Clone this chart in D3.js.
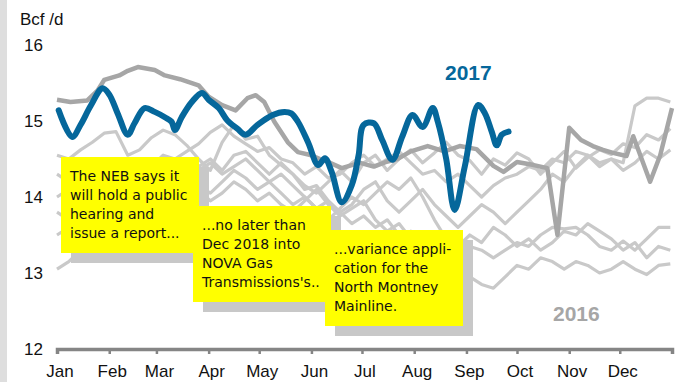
<!DOCTYPE html>
<html>
<head>
<meta charset="utf-8">
<script src="https://cdn.jsdelivr.net/npm/d3@7/dist/d3.min.js"></script>
<style>
  html, body { margin: 0; padding: 0; background: #fff; }
  svg { display: block; }
</style>
</head>
<body>
<svg id="chart" width="676" height="382"></svg>
<script>
// Month labels along the bottom axis
const months = ["Jan","Feb","Mar","Apr","May","Jun","Jul","Aug","Sep","Oct","Nov","Dec"];
const monthStartDays = [0,31,59,90,120,151,181,212,243,273,304,334,365];
const yTicks = [12, 13, 14, 15, 16];

// 2017 daily flow (Bcf/d), day of year and value
const days2017 = [1,9,14,20,27,31,36,42,46,52,58,64,68,70,74,80,86,90,96,101,107,112,119,128,135,139,143,149,155,159,163,169,175,179,182,188,193,199,205,211,217,223,226,231,236,242,250,254,258,261,264,268];
const values2017 = [15.14,14.79,14.95,15.2,15.43,15.35,15.1,14.82,14.97,15.17,15.12,15.05,14.99,14.88,15.05,15.25,15.37,15.28,15.17,15.01,14.9,14.82,14.95,15.08,15.12,15.1,14.99,14.72,14.42,14.51,14.33,13.93,14.16,14.55,14.95,14.97,14.75,14.49,14.8,15.08,14.92,15.17,14.99,14.5,13.83,14.4,15.21,15.1,14.86,14.68,14.82,14.86];

// 2016 flow
const days2016 = [0,8,18,24,28,37,42,48,58,64,73,84,90,98,106,113,118,123,129,137,143,151,156,161,169,175,180,188,195,202,210,220,230,239,249,259,265,273,283,291,297,304,311,318,324,330,338,342,352,358,365];
const values2016 = [15.28,15.25,15.27,15.4,15.54,15.6,15.66,15.71,15.67,15.6,15.55,15.47,15.32,15.21,15.14,15.3,15.34,15.25,14.99,14.72,14.59,14.55,14.5,14.46,14.38,14.42,14.45,14.4,14.46,14.5,14.6,14.67,14.6,14.67,14.63,14.41,14.33,14.46,14.42,14.38,13.5,14.91,14.75,14.67,14.62,14.58,14.54,14.8,14.2,14.55,15.17];

// Earlier years, weekly flow
const weekly2010 = [14.55,14.5,14.62,14.72,14.84,14.86,14.55,14.62,14.78,14.88,14.82,14.68,14.5,14.35,14.72,14.95,14.76,14.8,14.55,14.42,14.3,14.15,14.05,14.2,14.35,14.2,14.45,14.55,14.35,14.5,14.62,14.45,14.58,14.72,14.55,14.48,14.3,14.5,14.42,14.58,14.5,14.3,14.45,14.6,14.38,14.52,14.62,14.56,14.7,14.65,14.82,14.75,14.9];
const weekly2011 = [14.0,14.1,13.95,14.05,14.2,14.1,14.0,14.15,14.3,14.2,14.1,14.25,14.4,14.5,14.35,14.55,14.6,14.45,14.3,14.45,14.3,14.1,14.15,13.95,13.8,13.9,14.1,14.2,13.95,13.8,13.95,14.1,13.9,13.75,13.6,13.75,13.9,13.8,13.65,13.8,13.95,14.1,14.3,14.2,14.4,14.55,14.45,14.5,14.35,14.45,14.6,14.5,14.62];
const weekly2012 = [13.05,13.15,13.3,13.45,13.5,13.65,13.8,13.75,13.9,14.0,13.85,13.95,14.1,13.95,14.05,14.2,14.1,13.95,14.05,13.9,13.8,13.95,14.1,13.9,13.75,13.85,13.95,13.7,13.55,13.65,13.45,13.35,13.4,13.2,13.05,12.95,12.85,12.8,12.95,13.1,13.05,13.2,13.15,13.05,13.15,13.1,13.0,13.05,13.15,13.05,12.98,13.1,13.12];
const weekly2013 = [13.5,13.6,13.7,13.85,13.75,13.9,14.05,13.95,14.1,14.2,14.3,14.2,14.35,14.45,14.3,14.4,14.5,14.35,14.2,14.3,14.15,14.0,13.85,13.95,13.8,13.65,13.75,13.6,13.7,13.5,13.55,13.4,13.5,13.35,13.25,13.35,13.3,13.2,13.3,13.4,13.35,13.5,13.6,13.58,13.6,13.5,13.35,13.3,13.42,13.3,13.45,13.6,13.6];
const weekly2014 = [14.3,14.2,14.1,14.25,14.35,14.2,14.3,14.45,14.4,14.55,14.5,14.6,14.7,14.85,14.95,14.8,14.7,14.6,14.65,14.5,14.45,14.3,14.4,14.25,14.3,14.45,14.55,14.4,14.5,14.6,14.45,14.3,14.35,14.2,14.3,14.15,14.0,14.15,14.25,14.3,14.4,14.35,14.5,14.45,14.6,14.55,14.4,14.5,14.45,15.2,15.3,15.3,15.25];
const weekly2015 = [13.8,13.7,13.85,13.95,13.8,13.9,14.05,14.2,14.15,14.3,14.4,14.3,14.15,14.05,14.2,14.35,14.25,14.1,14.2,14.05,13.9,14.0,13.85,13.7,13.85,14.0,13.9,14.05,14.2,14.1,14.25,14.0,13.7,13.45,13.35,13.5,13.4,13.6,13.5,13.35,13.45,13.3,13.4,13.55,13.5,13.65,13.55,13.45,13.3,13.4,13.2,13.35,13.3];

// Call-out notes
const notes = [
  ["The NEB says it", "will hold a public", "hearing and", "issue a report..."],
  ["...no later than", "Dec 2018 into", "NOVA Gas", "Transmissions's.."],
  ["...variance appli-", "cation for the", "North Montney", "Mainline."]
];

const svg = d3.select("#chart");
const W = 676, H = 382;

// light grey strip on the far left
svg.append("rect").attr("x", 0).attr("y", 0).attr("width", 7).attr("height", H).attr("fill", "#dedede");

const x = d3.scaleLinear().domain([0, 365]).range([57, 672]);
const y = d3.scaleLinear().domain([12, 16]).range([349, 45]);

const lineGen = d3.line()
  .x(d => x(d[0]))
  .y(d => y(d[1]))
  .curve(d3.curveLinear);

const weeklyPairs = vals => vals.map((v, i) => [Math.min(i * 7, 365), v]);

// earlier years
[weekly2010, weekly2011, weekly2012, weekly2013, weekly2014, weekly2015].forEach(vals => {
  svg.append("path")
    .datum(weeklyPairs(vals))
    .attr("d", lineGen)
    .attr("fill", "none")
    .attr("stroke", "#c9c9c9")
    .attr("stroke-width", 3.2)
    .attr("stroke-linejoin", "round");
});

// 2016
svg.append("path")
  .datum(days2016.map((d, i) => [d, values2016[i]]))
  .attr("d", lineGen)
  .attr("fill", "none")
  .attr("stroke", "#a6a6a6")
  .attr("stroke-width", 4.5)
  .attr("stroke-linejoin", "round");

// 2017
svg.append("path")
  .datum(days2017.map((d, i) => [d, values2017[i]]))
  .attr("d", d3.line().x(d => x(d[0])).y(d => y(d[1])).curve(d3.curveCatmullRom.alpha(0.5)))
  .attr("fill", "none")
  .attr("stroke", "#05679b")
  .attr("stroke-width", 6)
  .attr("stroke-linejoin", "round")
  .attr("stroke-linecap", "round");

// y axis labels
svg.append("text").attr("x", 20).attr("y", 25)
  .attr("font-family", "Liberation Sans, Arial, sans-serif").attr("font-size", 17)
  .attr("fill", "#111").text("Bcf /d");

svg.selectAll(".ytick").data(yTicks).enter().append("text")
  .attr("x", 43).attr("y", d => y(d) + 6)
  .attr("text-anchor", "end")
  .attr("font-family", "Liberation Sans, Arial, sans-serif").attr("font-size", 17)
  .attr("fill", "#111").text(d => d);

// x axis
const xAxis = d3.axisBottom(x)
  .tickValues(monthStartDays)
  .tickSize(5)
  .tickFormat("");
const gx = svg.append("g").attr("transform", `translate(0,${y(12)})`).call(xAxis);
gx.select(".domain").attr("stroke", "#858585").attr("stroke-width", 3.5);
gx.selectAll(".tick line").attr("stroke", "#858585").attr("stroke-width", 2.5);

svg.selectAll(".mlabel").data(months).enter().append("text")
  .attr("x", (d, i) => x(monthStartDays[i]) + 3)
  .attr("y", 377)
  .attr("text-anchor", "middle")
  .attr("font-family", "Liberation Sans, Arial, sans-serif").attr("font-size", 17)
  .attr("fill", "#111").text(d => d);

// series labels
svg.append("text").attr("x", 445).attr("y", 80)
  .attr("font-family", "Liberation Sans, Arial, sans-serif").attr("font-size", 21)
  .attr("font-weight", "bold").attr("fill", "#05679b").text("2017");
svg.append("text").attr("x", 553).attr("y", 321)
  .attr("font-family", "Liberation Sans, Arial, sans-serif").attr("font-size", 21)
  .attr("font-weight", "bold").attr("fill", "#a6a6a6").text("2016");

// call-out boxes with drop shadows
const boxPos = [[61, 157], [193, 206], [325, 230]];
const boxW = 138, boxH = 96;
notes.forEach((lines, k) => {
  const [bx, by] = boxPos[k];
  const g = svg.append("g");
  g.append("rect").attr("x", bx + 10).attr("y", by + 10).attr("width", boxW).attr("height", boxH).attr("fill", "#c8c8c8");
  g.append("rect").attr("x", bx).attr("y", by).attr("width", boxW).attr("height", boxH).attr("fill", "#ffff00");
  const t = g.append("text")
    .attr("font-family", "'DejaVu Sans', sans-serif")
    .attr("font-size", 14).attr("fill", "#111");
  lines.forEach((ln, j) => {
    t.append("tspan").attr("x", bx + 9).attr("y", by + 24 + j * 19).text(ln);
  });
});
</script>
</body>
</html>
